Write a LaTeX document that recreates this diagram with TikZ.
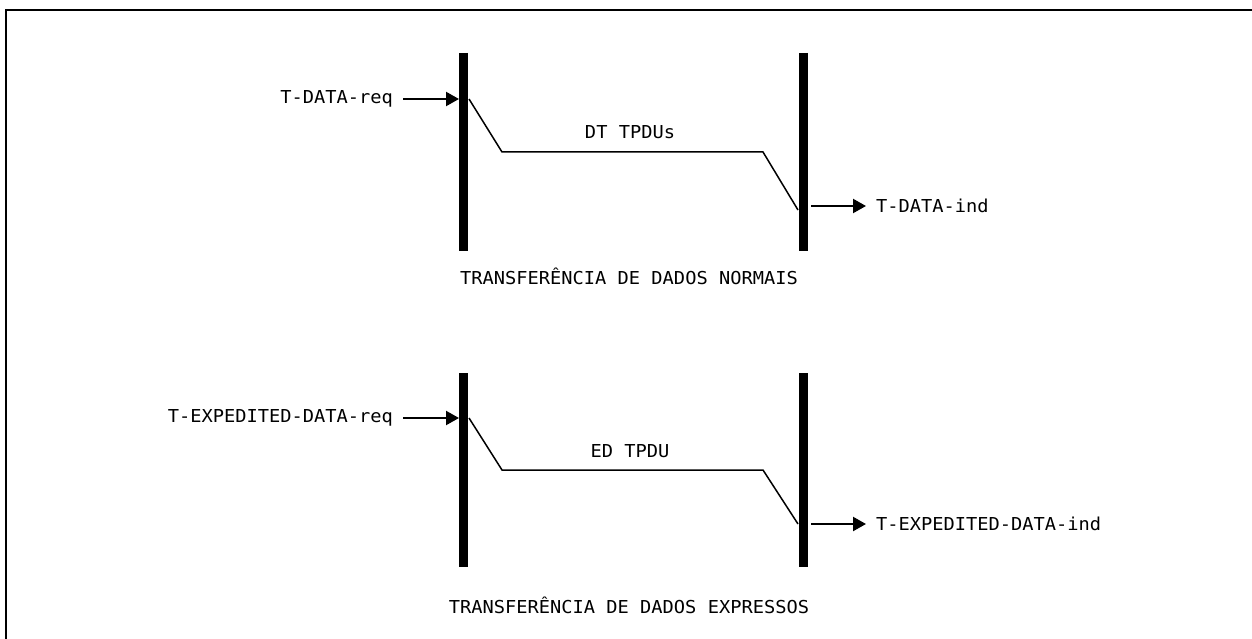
\documentclass[tikz,border=0pt]{standalone}
\usepackage{fontspec}
\newfontfamily\plotfont[FakeStretch=1.05]{DejaVu Sans Mono}
\usetikzlibrary{arrows.meta}
\begin{document}
\begin{tikzpicture}[x=1pt,y=-1pt,
    every node/.style={font=\plotfont\fontsize{17.8}{20}\selectfont,inner sep=0pt},
    prim/.style={inner xsep=10pt,inner ysep=2pt},
    bar/.style={line width=9pt},
    sig/.style={line width=2.2pt,-{Triangle[length=13pt,width=14pt]}},
    tpdu/.style={line width=1.5pt}]
    \useasboundingbox (0,0) rectangle (1252,639);
    \draw[line width=2pt] (1252,10) -- (6,10) -- (6,639);

    % dados normais
    \coordinate (a1) at (463,53);
    \coordinate (a2) at (463,251);
    \coordinate (b1) at (803,53);
    \coordinate (b2) at (803,251);
    \draw[bar] (a1) -- (a2);
    \draw[bar] (b1) -- (b2);

    \node[prim,anchor=east] (req) at (403,99) {T-DATA-req};
    \node[prim,anchor=west] (ind) at (866,206) {T-DATA-ind};
    \coordinate (reqin) at (459,99);
    \coordinate (indout) at (811,206);
    \draw[sig] (req) -- (reqin);
    \draw[sig] (indout) -- (ind);

    \coordinate (p1) at (469,99);
    \coordinate (p2) at (502,152);
    \coordinate (p3) at (763,152);
    \coordinate (p4) at (798,210);
    \draw[tpdu] (p1) -- (p2) -- (p3) -- (p4);
    \node (dt) at (630,132) {DT TPDUs};
    \node (cap1) at (629,276) {TRANSFERÊNCIA DE DADOS NORMAIS};

    % dados expressos
    \coordinate (c1) at (463,373);
    \coordinate (c2) at (463,567);
    \coordinate (d1) at (803,373);
    \coordinate (d2) at (803,567);
    \draw[bar] (c1) -- (c2);
    \draw[bar] (d1) -- (d2);

    \node[prim,anchor=east] (ereq) at (403,418) {T-EXPEDITED-DATA-req};
    \node[prim,anchor=west] (eind) at (866,524) {T-EXPEDITED-DATA-ind};
    \coordinate (ereqin) at (459,418);
    \coordinate (eindout) at (811,524);
    \draw[sig] (ereq) -- (ereqin);
    \draw[sig] (eindout) -- (eind);

    \coordinate (q1) at (469,418);
    \coordinate (q2) at (502,470);
    \coordinate (q3) at (763,470);
    \coordinate (q4) at (798,524);
    \draw[tpdu] (q1) -- (q2) -- (q3) -- (q4);
    \node (ed) at (630,451) {ED TPDU};
    \node (cap2) at (629,605) {TRANSFERÊNCIA DE DADOS EXPRESSOS};
\end{tikzpicture}
\end{document}
